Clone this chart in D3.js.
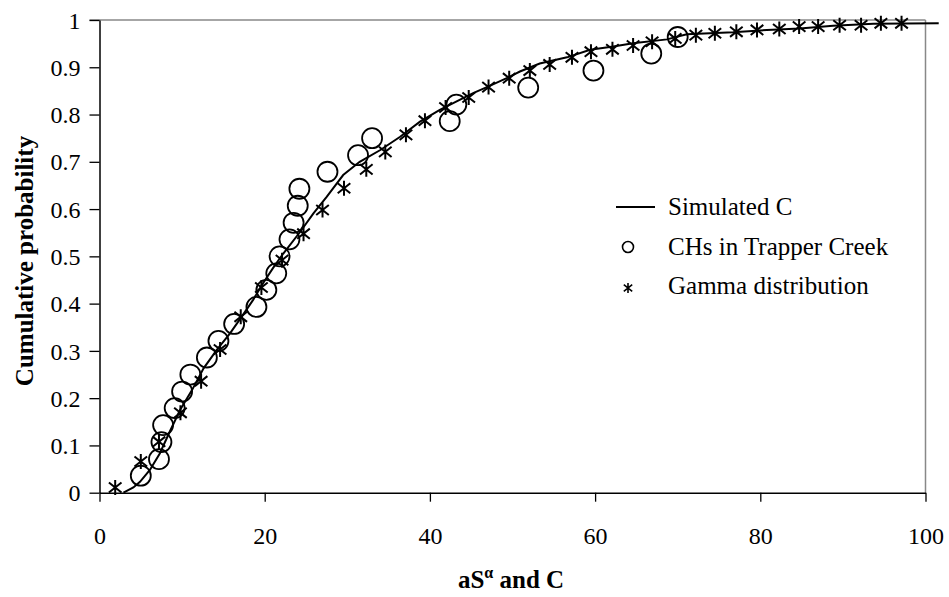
<!DOCTYPE html>
<html>
<head>
<meta charset="utf-8">
<script src="https://cdn.jsdelivr.net/npm/d3@7"></script>
<style>
  html, body { margin: 0; padding: 0; background: #fff; }
  svg { display: block; }
  text { font-family: "Liberation Serif", "Times New Roman", serif; fill: #000; }
</style>
</head>
<body>
<svg id="chart" width="949" height="597"></svg>
<script>
// Observed cumulative probabilities of CHs in Trapper Creek
const chX = [5.0, 7.2, 7.5, 7.7, 9.1, 10.0, 11.0, 13.0, 14.4, 16.3, 19.0, 20.2, 21.4, 21.8,
             23.0, 23.5, 24.0, 24.2, 27.6, 31.3, 33.0, 42.4, 43.2, 51.9, 59.8, 66.8, 70.0];
const chY = [0.036, 0.071, 0.107, 0.143, 0.179, 0.214, 0.25, 0.286, 0.321, 0.357, 0.393, 0.429, 0.464, 0.5,
             0.536, 0.571, 0.607, 0.643, 0.679, 0.714, 0.75, 0.786, 0.821, 0.857, 0.893, 0.929, 0.964];

// Fitted gamma distribution
const gammaX = [1.9, 5.0, 7.2, 9.8, 12.3, 14.6, 17.1, 19.6, 22.1, 24.7, 27.0, 29.6, 32.3, 34.6, 37.1,
                39.4, 41.9, 44.7, 47.1, 49.6, 52.1, 54.5, 57.2, 59.5, 62.1, 64.6, 66.9, 69.7, 72.2,
                74.5, 77.1, 79.6, 82.3, 84.7, 87.0, 89.6, 92.2, 94.6, 97.1];
const gammaY = [0.011, 0.066, 0.108, 0.169, 0.236, 0.303, 0.372, 0.434, 0.492, 0.548, 0.598, 0.644, 0.684, 0.721, 0.757,
                0.787, 0.815, 0.836, 0.858, 0.877, 0.893, 0.906, 0.921, 0.933, 0.938, 0.946, 0.954, 0.961, 0.968,
                0.972, 0.975, 0.979, 0.981, 0.986, 0.986, 0.989, 0.989, 0.993, 0.993];

// Simulated C (empirical cumulative curve)
const simX = [2.9, 4.1, 4.9, 6.1, 7.3, 8.5, 9.75, 11.2, 12.6, 14.2, 15.8, 17.2, 18.6, 19.8, 21.0, 22.25,
              24.3, 25.9, 27.5, 29.5, 31.5, 34.0, 36.4, 38.8, 41.2, 43.6, 45.3, 46.9, 49.3, 50.9, 53.3,
              56.6, 59.4, 62.2, 64.6, 68.7, 71.1, 76.7, 80.8, 84.8, 88.8, 93.7, 101.6];
const simY = [0, 0.011, 0.023, 0.048, 0.083, 0.129, 0.175, 0.217, 0.263, 0.302, 0.337, 0.372, 0.408, 0.443, 0.475, 0.506,
              0.552, 0.591, 0.626, 0.672, 0.700, 0.725, 0.753, 0.785, 0.810, 0.831, 0.846, 0.858, 0.877, 0.891, 0.908,
              0.921, 0.937, 0.944, 0.951, 0.959, 0.970, 0.974, 0.979, 0.982, 0.988, 0.992, 0.993];

const xTicks = [0, 20, 40, 60, 80, 100];
const yTicks = [0, 0.1, 0.2, 0.3, 0.4, 0.5, 0.6, 0.7, 0.8, 0.9, 1];
const xTickLabels = ["0", "20", "40", "60", "80", "100"];
const yTickLabels = ["0", "0.1", "0.2", "0.3", "0.4", "0.5", "0.6", "0.7", "0.8", "0.9", "1"];
const legendLabels = ["Simulated C", "CHs in Trapper Creek", "Gamma distribution"];

const svg = d3.select("#chart");
const plotL = 99.5, plotR = 925.5, plotT = 20, plotB = 492.7;

const x = d3.scaleLinear().domain([0, 100]).range([plotL, plotR]);
const y = d3.scaleLinear().domain([0, 1]).range([plotB, plotT]);

// Plot frame: grey top and right edges
svg.append("line").attr("x1", plotL - 10).attr("x2", plotR).attr("y1", plotT).attr("y2", plotT)
  .attr("stroke", "#888").attr("stroke-width", 1.5);
svg.append("line").attr("x1", plotR).attr("x2", plotR).attr("y1", plotT).attr("y2", plotB)
  .attr("stroke", "#888").attr("stroke-width", 1.5);

// Axes
const xAxis = svg.append("g").attr("transform", `translate(0,${plotB})`)
  .call(d3.axisBottom(x).tickValues(xTicks).tickFormat((d, i) => xTickLabels[i]).tickSize(9).tickSizeOuter(0));
const yAxis = svg.append("g").attr("transform", `translate(${plotL},0)`)
  .call(d3.axisLeft(y).tickValues(yTicks).tickFormat((d, i) => yTickLabels[i]).tickSize(10).tickSizeOuter(0));

[xAxis, yAxis].forEach(g => {
  g.select(".domain").attr("stroke", "#000").attr("stroke-width", 1.5);
  g.selectAll(".tick line").attr("stroke", "#000").attr("stroke-width", 1.3);
  g.selectAll(".tick text").attr("font-family", "Liberation Serif, serif")
    .attr("font-size", 24).attr("fill", "#000");
});
xAxis.selectAll(".tick text").attr("y", 34).attr("dy", "0.71em");
yAxis.selectAll(".tick text").attr("x", -19).attr("dy", "0.34em");

// Simulated C line
const simPts = simX.map((v, i) => [v, simY[i]]);
svg.append("path")
  .datum(simPts)
  .attr("fill", "none").attr("stroke", "#000").attr("stroke-width", 2)
  .attr("d", d3.line().x(d => x(d[0])).y(d => y(d[1])));

// Asterisk marker path (vertical bar plus diagonal cross)
function starPath(s) {
  const h = s / 2, d = s * 0.42;
  return `M0,${-h}V${h}M${-d},${-d * 0.8}L${d},${d * 0.8}M${-d},${d * 0.8}L${d},${-d * 0.8}`;
}

// Gamma distribution markers
svg.append("g").selectAll("path")
  .data(gammaX.map((v, i) => [v, gammaY[i]]))
  .join("path")
  .attr("transform", d => `translate(${x(d[0])},${y(d[1])})`)
  .attr("d", starPath(15))
  .attr("fill", "none").attr("stroke", "#000").attr("stroke-width", 2);

// CHs in Trapper Creek markers
svg.append("g").selectAll("circle")
  .data(chX.map((v, i) => [v, chY[i]]))
  .join("circle")
  .attr("cx", d => x(d[0])).attr("cy", d => y(d[1])).attr("r", 10)
  .attr("fill", "none").attr("stroke", "#000").attr("stroke-width", 1.8);

// Legend
const lg = svg.append("g");
lg.append("line").attr("x1", 616).attr("x2", 655).attr("y1", 207).attr("y2", 207)
  .attr("stroke", "#000").attr("stroke-width", 1.8);
lg.append("circle").attr("cx", 628).attr("cy", 247).attr("r", 5.5)
  .attr("fill", "none").attr("stroke", "#000").attr("stroke-width", 1.6);
lg.append("path").attr("transform", "translate(628,288)").attr("d", starPath(10))
  .attr("fill", "none").attr("stroke", "#000").attr("stroke-width", 1.6);
lg.selectAll("text").data(legendLabels).join("text")
  .attr("x", 668).attr("y", (d, i) => 215 + i * 39.5)
  .attr("font-size", 25).text(d => d);

// Axis titles
const xt = svg.append("text").attr("x", 511).attr("y", 588).attr("text-anchor", "middle")
  .attr("font-size", 25).attr("font-weight", "bold");
xt.append("tspan").text("aS");
xt.append("tspan").attr("font-size", 16).attr("dy", -10).text("α");
xt.append("tspan").attr("dy", 10).text(" and C");

svg.append("text").attr("transform", "translate(33,261) rotate(-90)")
  .attr("text-anchor", "middle").attr("font-size", 25).attr("font-weight", "bold")
  .text("Cumulative probability");
</script>
</body>
</html>
